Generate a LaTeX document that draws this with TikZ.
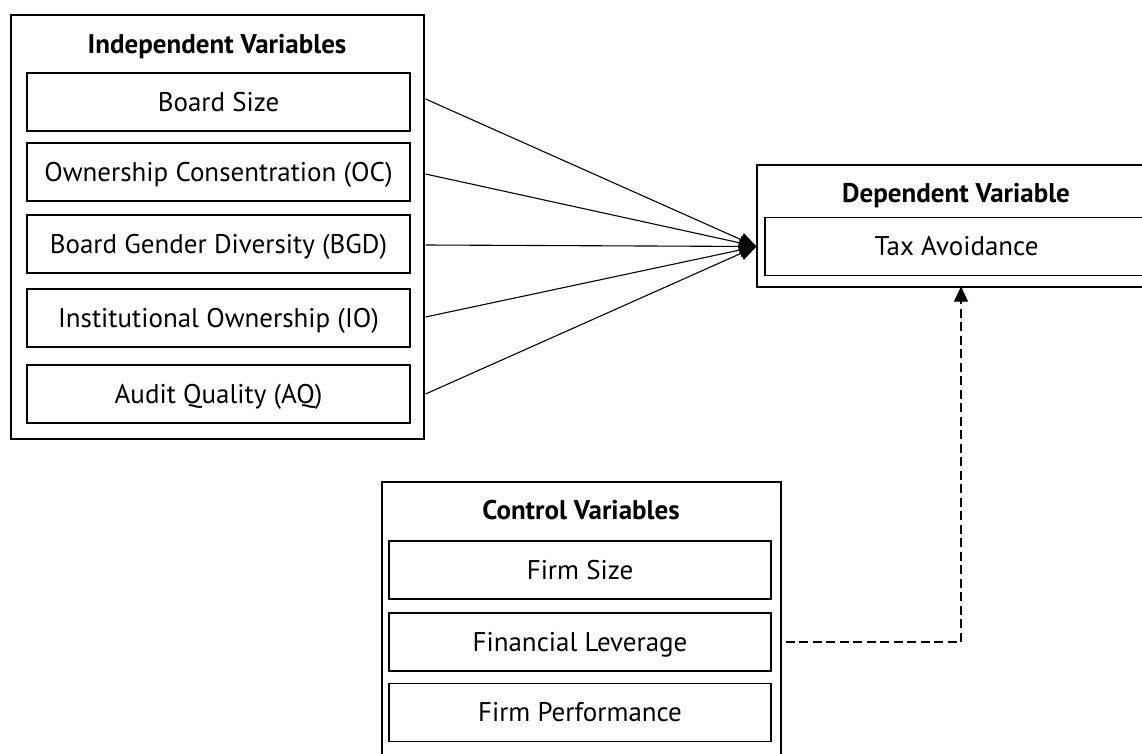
\documentclass[tikz,border=0pt]{standalone}
\usepackage{fontspec}
\setmainfont{PT Sans}
\usetikzlibrary{arrows.meta}
\tikzset{
  frame/.style={draw=black, line width=1.1pt, rectangle, inner sep=0pt},
  item/.style={draw=black, line width=1.1pt, rectangle, inner sep=0pt,
    minimum width=383pt, minimum height=58pt, font=\fontsize{27pt}{30pt}\selectfont,
    text height=18.9pt, text depth=0pt},
  head/.style={inner sep=0pt, font=\fontsize{27pt}{30pt}\selectfont\bfseries,
    text height=18.9pt, text depth=0pt},
  arr/.style={line width=1.1pt, -{Triangle[length=17pt,width=14pt]}},
  darr/.style={line width=1.1pt, dash pattern=on 9pt off 4.5pt, -{Triangle[length=15pt,width=14pt]}}
}
\begin{document}
\begin{tikzpicture}[x=1pt,y=-1pt]
\useasboundingbox (0,0) rectangle (1142,754);
\clip (0,0) rectangle (1142,754);
% Independent variables
\node[frame, minimum width=413pt, minimum height=424pt] (indep) at (217.5,227) {};
\node[head] (indept) at (217,44) {Independent Variables};
\node[item] (bs) at (218.5,102) {Board Size};
\node[item] (oc) at (218.5,172) {Ownership Consentration (OC)};
\node[item] (bgd) at (218.5,244) {Board Gender Diversity (BGD)};
\node[item] (io) at (218.5,318) {Institutional Ownership (IO)};
\node[item] (aq) at (218.5,394) {Audit Quality (AQ)};
% Dependent variable
\node[frame, minimum width=400pt, minimum height=122pt] (dep) at (957,226) {};
\node[head] (dept) at (956,193) {Dependent Variable};
\node[item] (tax) at (956.5,246.5) {Tax Avoidance};
% Control variables
\node[frame, minimum width=399pt, minimum height=290pt] (ctrl) at (581.5,627) {};
\node[head] (ctrlt) at (581,510) {Control Variables};
\node[item, minimum width=382pt] (fs) at (580,570) {Firm Size};
\node[item, minimum width=382pt] (fl) at (580,642) {Financial Leverage};
\node[item, minimum width=382pt] (fp) at (580,712.5) {Firm Performance};
% connectors
\coordinate (target) at (dep.west |- tax.west);
\draw[arr] ([xshift=1pt]indep.east |- 0,99) -- (target);
\draw[arr] ([xshift=1pt]indep.east |- 0,174) -- (target);
\draw[arr] ([xshift=1pt]indep.east |- 0,245) -- (target);
\draw[arr] ([xshift=1pt]indep.east |- 0,317) -- (target);
\draw[arr] ([xshift=1pt]indep.east |- 0,394) -- (target);
\coordinate (dstart) at ([xshift=4pt]ctrl.east |- fl.east);
\coordinate (dend) at (961,0 |- dep.south);
\draw[darr] (dstart) -| ([yshift=1pt]dend);
\end{tikzpicture}
\end{document}
